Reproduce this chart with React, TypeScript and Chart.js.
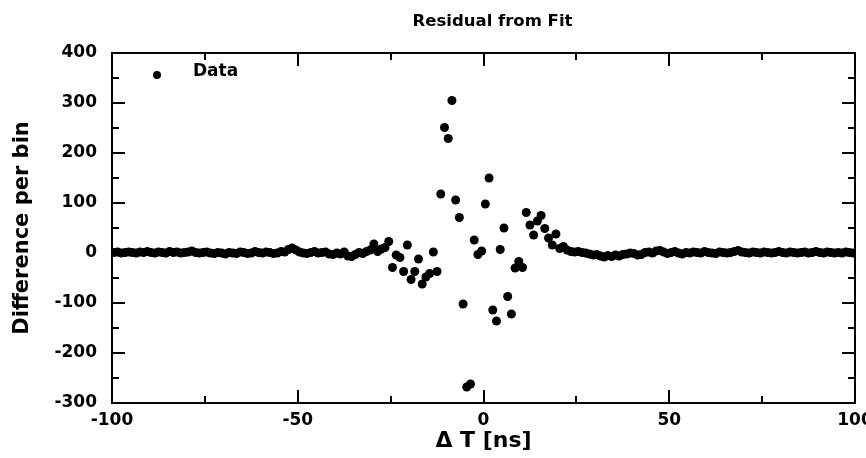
import React, { useEffect, useRef } from 'react';
import { Chart, registerables } from 'chart.js';

Chart.register(...registerables);

// Bin layout of the histogram residual (ns)
const binStart = -99.5;
const binWidth = 1;

// Residual per bin, from -99.5 ns to -32.5 ns
const residualLeftTail = [
  1, 2, 0, 1, 2, 1, 0, 2, 1, 3,
  1, 0, 2, 1, 0, 3, 1, 2, 0, 1,
  2, 4, 1, 0, 1, 2, 0, -1, 1, 0,
  -2, 1, 0, -1, 2, 1, -1, 0, 3, 1,
  0, 2, 1, -1, 0, 3, 2, 7, 10, 6,
  2, 0, -1, 1, 3, 0, 1, 2, -2, -3,
  0, -2, 2, -6, -7, -3, 1, -1,
];
// Residual per bin, from -31.5 ns to 24.5 ns
const residualCore = [
  3, 6, 18, 3, 8, 11, 23, -29, -4, -9,
  -37, 16, -53, -37, -12, -62, -48, -41, 2, -37,
  118, 251, 229, 305, 106, 71, -102, -268, -262, 26,
  -3, 4, 98, 150, -114, -136, 7, 50, -87, -122,
  -30, -17, -29, 81, 56, 36, 64, 75, 49, 30,
  16, 38, 9, 13, 6, 3, 2,
];
// Residual per bin, from 25.5 ns to 99.5 ns
const residualRightTail = [
  3, 1, 0, -2, -4, -3, -6, -8, -5, -7,
  -4, -6, -3, -2, 0, -1, -4, -3, 1, 2,
  0, 4, 5, 2, -1, 1, 3, 0, -2, 1,
  0, 2, 1, 0, 3, 1, 0, -1, 2, 1,
  0, 1, 3, 5, 2, 1, 0, 2, 1, 0,
  2, 1, 0, 1, 3, 1, 0, 2, 1, 0,
  1, 2, 0, 1, 3, 1, 0, 2, 1, 0,
  1, 0, 2, 1, 0,
];

const xRange = [-100, 100];
const yRange = [-300, 400];
const xMajorStep = 50;
const xMinorStep = 25;
const yMajorStep = 100;
const yMinorStep = 50;

const titleText = 'Residual from Fit';
const xTitle = 'Δ T [ns]';
const yTitle = 'Difference per bin';
const legendLabel = 'Data';

const FONT = "'DejaVu Sans', sans-serif";

const frameTicksPlugin = {
  id: 'frameTicks',
  afterDraw(chart: any) {
    const { ctx, chartArea, scales } = chart;
    const { left, right, top, bottom } = chartArea;
    const xs = scales.x;
    const ys = scales.y;
    ctx.save();
    ctx.strokeStyle = '#000';
    ctx.lineWidth = 2;
    ctx.strokeRect(left, top, right - left, bottom - top);
    ctx.beginPath();
    for (let v = xRange[0]; v <= xRange[1]; v += xMinorStep) {
      const p = Math.round(xs.getPixelForValue(v));
      const len = v % xMajorStep === 0 ? 13 : 7;
      ctx.moveTo(p, bottom);
      ctx.lineTo(p, bottom - len);
      ctx.moveTo(p, top);
      ctx.lineTo(p, top + len);
    }
    for (let v = yRange[0]; v <= yRange[1]; v += yMinorStep) {
      const p = Math.round(ys.getPixelForValue(v));
      const len = v % yMajorStep === 0 ? 13 : 7;
      ctx.moveTo(left, p);
      ctx.lineTo(left + len, p);
      ctx.moveTo(right, p);
      ctx.lineTo(right - len, p);
    }
    ctx.stroke();

    // title
    ctx.fillStyle = '#000';
    ctx.font = `bold 16.5px ${FONT}`;
    ctx.textAlign = 'center';
    ctx.textBaseline = 'middle';
    ctx.fillText(titleText, (left + right) / 2 + 9, top - 31);

    // legend
    const lx = left + 45;
    const ly = top + 22;
    ctx.beginPath();
    ctx.arc(lx, ly, 4, 0, Math.PI * 2);
    ctx.fill();
    ctx.font = `bold 17px ${FONT}`;
    ctx.textBaseline = 'middle';
    ctx.textAlign = 'left';
    ctx.fillText(legendLabel, lx + 36, ly - 3);
    ctx.restore();
  },
};

export default function App() {
  const ref = useRef<HTMLCanvasElement | null>(null);

  useEffect(() => {
    if (!ref.current) return;
    const values = [...residualLeftTail, ...residualCore, ...residualRightTail];
    const points = values.map((y, i) => ({ x: binStart + i * binWidth, y }));

    const chart = new Chart(ref.current, {
      type: 'scatter',
      data: {
        datasets: [
          {
            label: legendLabel,
            data: points,
            backgroundColor: '#000',
            borderColor: '#000',
            borderWidth: 0,
            pointRadius: 4.5,
            pointStyle: 'circle',
          },
        ],
      },
      options: {
        responsive: false,
        animation: false,
        devicePixelRatio: 1,
        layout: { padding: { left: 0, right: 0, top: 53, bottom: 0 } },
        plugins: {
          legend: { display: false },
          tooltip: { enabled: false },
          title: { display: false },
        },
        scales: {
          x: {
            type: 'linear',
            min: xRange[0],
            max: xRange[1],
            grid: { display: false, drawTicks: false },
            border: { display: false },
            ticks: {
              stepSize: xMajorStep,
              color: '#000',
              padding: 7,
              maxRotation: 0,
              font: { family: FONT, size: 17, weight: 'bold' },
            },
            title: {
              display: true,
              text: xTitle,
              color: '#000',
              font: { family: FONT, size: 22, weight: 'bold' },
              padding: { top: 0, bottom: 4 },
            },
            afterFit: (s: any) => {
              s.height = 55;
              s.paddingRight = 11;
              s.paddingLeft = 0;
            },
          },
          y: {
            type: 'linear',
            min: yRange[0],
            max: yRange[1],
            grid: { display: false, drawTicks: false },
            border: { display: false },
            ticks: {
              stepSize: yMajorStep,
              color: '#000',
              padding: 15,
              font: { family: FONT, size: 17, weight: 'bold' },
            },
            title: {
              display: true,
              text: yTitle,
              color: '#000',
              font: { family: FONT, size: 21, weight: 'bold' },
              padding: { top: 10, bottom: 0 },
            },
            afterFit: (s: any) => {
              s.width = 112;
              s.paddingTop = 0;
              s.paddingBottom = 0;
            },
          },
        },
      },
      plugins: [frameTicksPlugin],
    });
    return () => chart.destroy();
  }, []);

  return (
    <div style={{ position: 'fixed', left: 0, top: 0, width: 866, height: 458, background: '#fff' }}>
      <canvas ref={ref} width={866} height={458} />
    </div>
  );
}
